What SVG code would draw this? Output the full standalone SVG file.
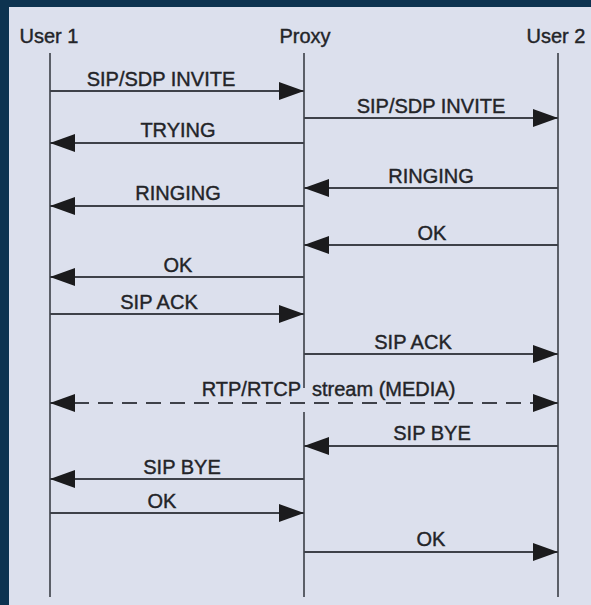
<svg xmlns="http://www.w3.org/2000/svg" width="591" height="605" viewBox="0 0 591 605">
<style>
.lbl{font-family:"Liberation Sans",Arial,sans-serif;font-size:20px;fill:#232428;stroke:#232428;stroke-width:0.4;text-anchor:middle}
.life{stroke:#5b5f68;stroke-width:2;fill:none}
.msg{stroke:#3e4149;stroke-width:2;fill:none;marker-end:url(#ah)}
.dash{stroke:#3e4149;stroke-width:2;fill:none;stroke-dasharray:15 9;marker-start:url(#ah);marker-end:url(#ah)}
</style>
<defs>
<marker id="ah" viewBox="0 0 25 18" refX="25" refY="9" markerWidth="25" markerHeight="18" markerUnits="userSpaceOnUse" orient="auto-start-reverse">
<path d="M0,0 L25,9 L0,18 Z" fill="#1b1b1d" stroke="none"/>
</marker>
</defs>
<rect x="0" y="0" width="591" height="605" fill="#0d3350"/>
<rect x="9" y="7" width="582" height="598" fill="#dce0ed"/>
<g id="user1">
<text class="lbl" x="49" y="43">User 1</text>
<line class="life" x1="50" y1="53" x2="50" y2="597"/>
</g>
<g id="proxy">
<text class="lbl" x="305" y="43">Proxy</text>
<line class="life" x1="304" y1="53" x2="304" y2="388"/>
<line class="life" x1="304" y1="412" x2="304" y2="597"/>
</g>
<g id="user2">
<text class="lbl" x="556" y="43">User 2</text>
<line class="life" x1="558" y1="53" x2="558" y2="597"/>
</g>
<g id="connectors">
<line class="msg" x1="50" y1="91" x2="304" y2="91"/>
<text class="lbl" x="161" y="86">SIP/SDP INVITE</text>
<line class="msg" x1="304" y1="118" x2="558" y2="118"/>
<text class="lbl" x="431" y="113">SIP/SDP INVITE</text>
<line class="msg" x1="304" y1="143" x2="50" y2="143"/>
<text class="lbl" x="178" y="137">TRYING</text>
<line class="msg" x1="558" y1="188" x2="304" y2="188"/>
<text class="lbl" x="431" y="183">RINGING</text>
<line class="msg" x1="304" y1="206" x2="50" y2="206"/>
<text class="lbl" x="178" y="200">RINGING</text>
<line class="msg" x1="558" y1="245" x2="304" y2="245"/>
<text class="lbl" x="432" y="240">OK</text>
<line class="msg" x1="304" y1="277" x2="50" y2="277"/>
<text class="lbl" x="178" y="272">OK</text>
<line class="msg" x1="50" y1="314" x2="304" y2="314"/>
<text class="lbl" x="159" y="309">SIP ACK</text>
<line class="msg" x1="304" y1="354" x2="558" y2="354"/>
<text class="lbl" x="413" y="349">SIP ACK</text>
<line class="dash" x1="50" y1="403" x2="558" y2="403"/>
<text class="lbl" x="301" y="396" style="text-anchor:end">RTP/RTCP</text>
<text class="lbl" x="312" y="396" style="text-anchor:start">stream (MEDIA)</text>
<line class="msg" x1="558" y1="446" x2="304" y2="446"/>
<text class="lbl" x="432" y="440">SIP BYE</text>
<line class="msg" x1="304" y1="479" x2="50" y2="479"/>
<text class="lbl" x="182" y="474">SIP BYE</text>
<line class="msg" x1="50" y1="513" x2="304" y2="513"/>
<text class="lbl" x="162" y="508">OK</text>
<line class="msg" x1="304" y1="552" x2="558" y2="552"/>
<text class="lbl" x="431" y="546">OK</text>
</g>
</svg>
